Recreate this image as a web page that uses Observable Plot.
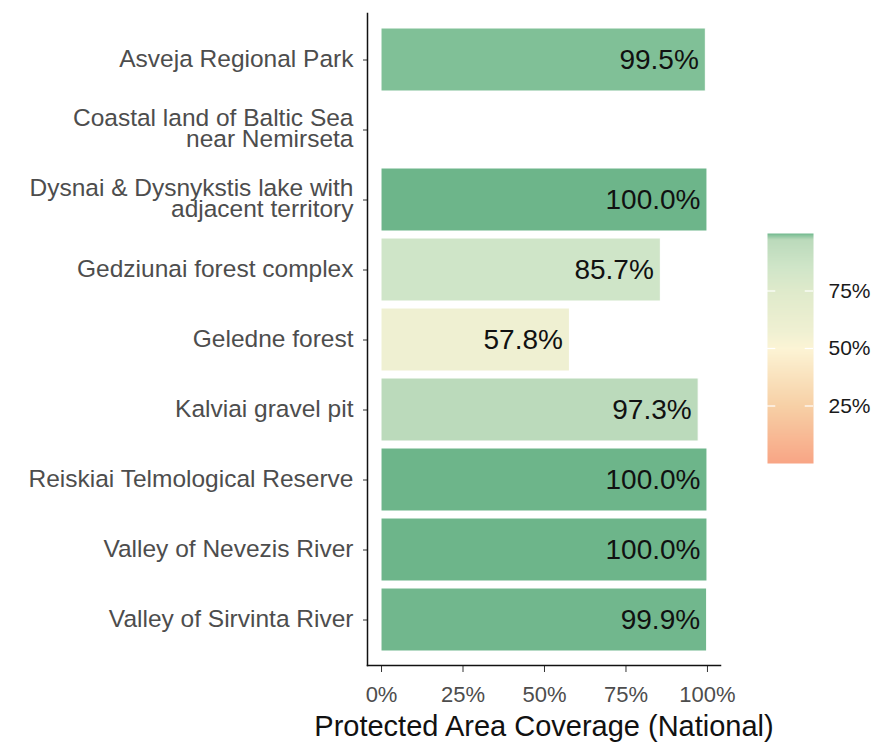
<!DOCTYPE html>
<html>
<head>
<meta charset="utf-8">
<script src="https://cdn.jsdelivr.net/npm/d3@7"></script>
<script src="https://cdn.jsdelivr.net/npm/@observablehq/plot@0.6"></script>
<style>
  html, body { margin: 0; padding: 0; background: #fff; }
  #wrap { position: relative; width: 881px; height: 742px; font-family: "Liberation Sans", Arial, sans-serif; }
  #legend { position: absolute; left: 740px; top: 210px; }
  #main { position: absolute; left: 0; top: 0; }
</style>
</head>
<body>
<div id="wrap"><div id="main"></div><div id="legend"></div></div>
<script>
const sites = [
  "Asveja Regional Park",
  "Coastal land of Baltic Sea\nnear Nemirseta",
  "Dysnai & Dysnykstis lake with\nadjacent territory",
  "Gedziunai forest complex",
  "Geledne forest",
  "Kalviai gravel pit",
  "Reiskiai Telmological Reserve",
  "Valley of Nevezis River",
  "Valley of Sirvinta River"
];
const coverage = [99.5, null, 100.0, 85.7, 57.8, 97.3, 100.0, 100.0, 99.9];
const xTicks = [0, 25, 50, 75, 100];
const legendTicks = [25, 50, 75];
const colorValues = [0, 25, 50, 57.8, 75, 85.7, 97.3, 99.5, 100];
const colorStops = ["#f8a585", "#f7d0a6", "#fcf4d5", "#eff0d2", "#dfeacb", "#cfe5c8", "#bbdabb", "#80c097", "#6db58a"];

const data = sites.map((name, i) => ({name, value: coverage[i]}));
const bars = data.filter(d => d.value != null);

const colorScale = {type: "linear", domain: colorValues, range: colorStops, interpolate: "rgb"};
const font = "Liberation Sans, Arial, sans-serif";

const main = Plot.plot({
  width: 881,
  height: 742,
  marginLeft: 367,
  marginRight: 161,
  marginTop: 13,
  marginBottom: 77,
  style: {fontFamily: font, background: "white"},
  x: {domain: [-4.3, 104], label: null},
  y: {domain: sites, paddingInner: 0.1, paddingOuter: 0.15, label: null},
  color: colorScale,
  marks: [
    Plot.barX(bars, {x: "value", y: "name", fill: "value", stroke: "white", strokeWidth: 1}),
    Plot.text(bars, {x: "value", y: "name", text: d => d.value.toFixed(1) + "%", textAnchor: "end", dx: -7, dy: 0, fontSize: 28, fill: "#111"}),
    Plot.axisY({tickSize: 4, tickPadding: 10, fontSize: 24.5, lineHeight: 0.84, fill: "#4d4d4d", stroke: "#333", style: {letterSpacing: "2.5px"}}),
    Plot.axisX({ticks: xTicks, tickFormat: d => d + "%", tickSize: 7, tickPadding: 14, fontSize: 22, fill: "#4d4d4d", stroke: "#333", label: null, style: {letterSpacing: "1.2px"}}),
    Plot.axisX({ticks: [], label: "Protected Area Coverage (National)", labelAnchor: "center", labelArrow: "none", labelOffset: 70, fontSize: 29, fill: "#111"}),
    Plot.frame({anchor: "left", stroke: "#111", strokeWidth: 1.5}),
    Plot.frame({anchor: "bottom", stroke: "#111", strokeWidth: 1.5})
  ]
});
document.getElementById("main").appendChild(main);

const legend = Plot.plot({
  width: 141,
  height: 270,
  marginLeft: 27,
  marginRight: 68,
  marginTop: 23,
  marginBottom: 17,
  style: {fontFamily: font, background: "transparent"},
  x: {domain: [0, 1], axis: null},
  y: {domain: [0, 100], axis: null},
  color: colorScale,
  marks: [
    Plot.raster({x1: 0, x2: 1, y1: 0, y2: 100, fill: (x, y) => y, width: 1, height: 230, imageRendering: "auto"}),
    Plot.ruleY(legendTicks, {y: d => d, x1: 0, x2: 0.18, stroke: "white", strokeWidth: 1.2}),
    Plot.ruleY(legendTicks, {y: d => d, x1: 0.82, x2: 1, stroke: "white", strokeWidth: 1.2}),
    Plot.axisY({anchor: "right", ticks: legendTicks, tickFormat: d => d + "%", tickSize: 0, tickPadding: 15, fontSize: 21, fill: "#1a1a1a", label: null, style: {letterSpacing: "0.6px"}})
  ]
});
document.getElementById("legend").appendChild(legend);
</script>
</body>
</html>
